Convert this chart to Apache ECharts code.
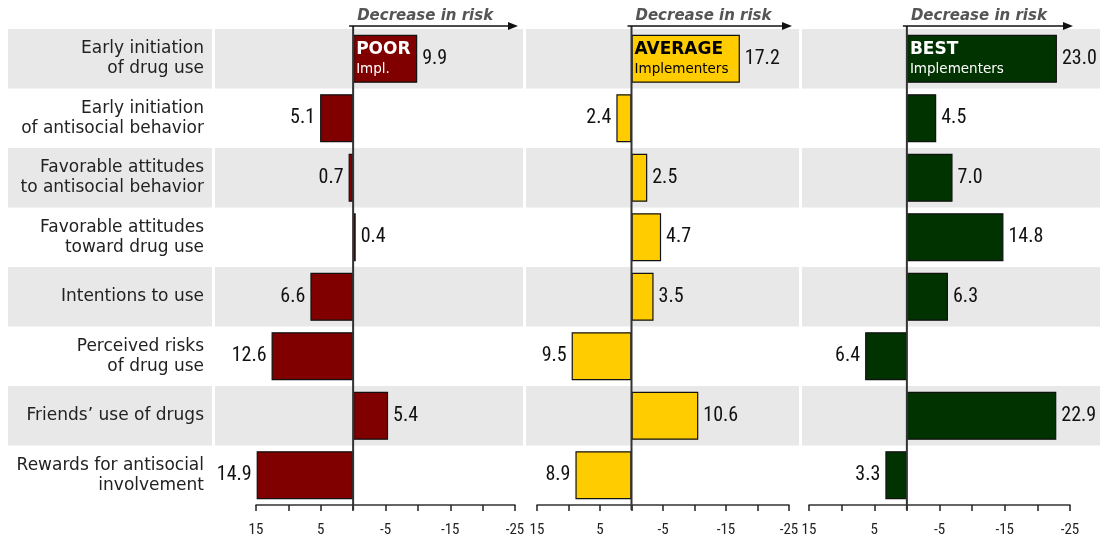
<!DOCTYPE html>
<html>
<head>
<meta charset="utf-8">
<script src="https://cdn.jsdelivr.net/npm/echarts@6/dist/echarts.min.js"></script>
<style>
html,body{margin:0;padding:0;background:#fff;}
#main{width:1102px;height:541px;}
</style>
</head>
<body>
<div id="main"></div>
<script>
const categories = [
  'Early initiation\nof drug use',
  'Early initiation\nof antisocial behavior',
  'Favorable attitudes\nto antisocial behavior',
  'Favorable attitudes\ntoward drug use',
  'Intentions to use',
  'Perceived risks\nof drug use',
  'Friends\u2019 use of drugs',
  'Rewards for antisocial\ninvolvement'
];
// decrease in risk (positive = decrease, drawn to the right)
const poor    = [9.9, -5.1, -0.7, 0.4, -6.6, -12.6, 5.4, -14.9];
const average = [17.2, -2.4, 2.5, 4.7, 3.5, -9.5, 10.6, -8.9];
const best    = [23.0, 4.5, 7.0, 14.8, 6.3, -6.4, 22.9, -3.3];
const panelTitles = ['POOR', 'AVERAGE', 'BEST'];
const panelSubtitles = ['Impl.', 'Implementers', 'Implementers'];
const panelColors = ['#800000', '#FFCC00', '#003300'];
const panelTextColors = ['#ffffff', '#000000', '#ffffff'];
const tickLabels = [15, 5, -5, -15, -25];
const arrowLabel = 'Decrease in risk';

const grids = [
  {left: 256, width: 259, top: 29, height: 476},
  {left: 537, width: 252, top: 29, height: 476},
  {left: 809, width: 261, top: 29, height: 476}
];
const panelBands = [[8, 212], [215, 523], [526, 799], [802, 1100]];

const chart = echarts.init(document.getElementById('main'));
const seriesData = [poor, average, best];
const numFont = '"Liberation Sans Narrow", "Arial Narrow", "Roboto Condensed", sans-serif';
const textFont = '"DejaVu Sans", Verdana, sans-serif';

const xAxes = grids.map((g, i) => ({
  type: 'value', gridIndex: i, min: -15, max: 25, interval: 5,
  axisLine: {show: true, onZero: false, lineStyle: {color: '#333', width: 1.5}},
  axisTick: {show: true, length: 6, lineStyle: {color: '#222', width: 1.5}},
  splitLine: {show: false},
  axisLabel: {
    margin: 18, fontFamily: numFont, fontSize: 15, color: '#222',
    showMinLabel: true, showMaxLabel: true,
    formatter: v => tickLabels.includes(-v) ? String(-v) : ''
  }
}));
const yAxes = grids.map((g, i) => ({
  type: 'category', gridIndex: i, inverse: true, data: categories,
  axisLine: {show: false}, axisTick: {show: false},
  axisLabel: i === 0 ? {
    show: true, margin: 52, fontFamily: textFont,
    fontSize: 17, color: '#222', lineHeight: 20, align: 'right'
  } : {show: false}
}));

const series = [];
seriesData.forEach((arr, i) => {
  series.push({
    type: 'bar', xAxisIndex: i, yAxisIndex: i, barWidth: 48, z: 3,
    itemStyle: {color: panelColors[i], borderColor: '#111', borderWidth: 1.2},
    label: {show: true, fontFamily: numFont, fontSize: 20, color: '#111', distance: 5,
      formatter: p => Math.abs(p.value).toFixed(1)},
    data: arr.map(v => ({value: v, label: {position: v >= 0 ? 'right' : 'left'}}))
  });
  // overlay for the panel title inside the first bar
  series.push({
    type: 'bar', xAxisIndex: i, yAxisIndex: i, barWidth: 48, barGap: '-100%', z: 4,
    itemStyle: {color: 'rgba(0,0,0,0)'},
    silent: true,
    label: {
      show: true, position: 'insideTopLeft', distance: 3,
      formatter: () => '{a|' + panelTitles[i] + '}\n{b|' + panelSubtitles[i] + '}',
      rich: {
        a: {fontFamily: textFont, fontWeight: 'bold', fontSize: 17, color: panelTextColors[i], lineHeight: 24},
        b: {fontFamily: textFont, fontSize: 13.5, color: panelTextColors[i], lineHeight: 16}
      }
    },
    data: arr.map((v, k) => k === 0 ? v : '-')
  });
});

chart.setOption({
  animation: false,
  grid: grids,
  xAxis: xAxes,
  yAxis: yAxes,
  series: series
});

// background bands, zero lines and arrows
const graphics = [];
const y0 = chart.convertToPixel({yAxisIndex: 0}, 0);
const y1 = chart.convertToPixel({yAxisIndex: 0}, 1);
const bw = y1 - y0;
categories.forEach((c, k) => {
  if (k % 2 !== 0) return;
  const yc = chart.convertToPixel({yAxisIndex: 0}, k);
  panelBands.forEach(b => {
    graphics.push({type: 'rect', z: -10, silent: true,
      shape: {x: b[0], y: yc - bw / 2, width: b[1] - b[0], height: bw},
      style: {fill: '#e8e8e8'}});
  });
});
grids.forEach((g, i) => {
  const zx = chart.convertToPixel({xAxisIndex: i}, 0);
  const ex = chart.convertToPixel({xAxisIndex: i}, 25);
  const ay = 26;
  graphics.push({type: 'line', z: 100, silent: true,
    shape: {x1: zx, y1: ay, x2: zx, y2: g.top + g.height + 5},
    style: {stroke: '#333', lineWidth: 2}});
  graphics.push({type: 'line', z: 100, silent: true,
    shape: {x1: zx - 4, y1: ay, x2: ex - 2, y2: ay},
    style: {stroke: '#111', lineWidth: 1.5}});
  graphics.push({type: 'polygon', z: 100, silent: true,
    shape: {points: [[ex + 3, ay], [ex - 7, ay - 4], [ex - 7, ay + 4]]},
    style: {fill: '#111'}});
  graphics.push({type: 'text', z: 100, silent: true,
    style: {x: zx + 4, y: 16, text: arrowLabel, textVerticalAlign: 'middle', verticalAlign: 'middle',
      font: 'italic bold 15px "DejaVu Sans", Verdana, sans-serif', fill: '#555'}});
});
chart.setOption({graphic: graphics});
</script>
</body>
</html>
